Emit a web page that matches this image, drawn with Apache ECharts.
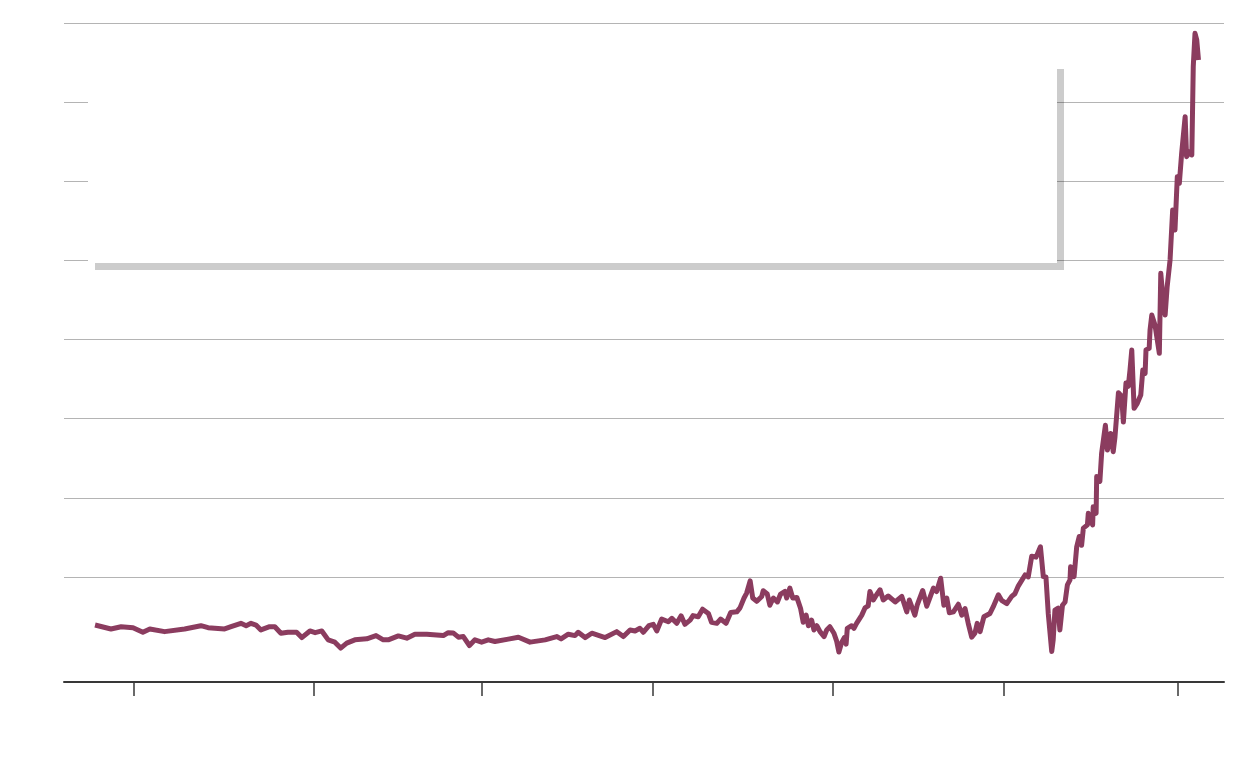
<!DOCTYPE html>
<html>
<head>
<meta charset="utf-8">
<script src="https://cdn.jsdelivr.net/npm/echarts@6/dist/echarts.min.js"></script>
<style>
  html, body { margin: 0; padding: 0; background: #fff; }
  #chart { width: 1240px; height: 784px; }
</style>
</head>
<body>
<div id="chart"></div>
<script>
// months since the start of the axis (month 0 = left edge)
const months = [
  10.7, 16.2, 19.7, 23.8, 27.2, 29.6, 34.7, 41.6, 47.2, 49.7, 55.4, 57.6, 61.0, 62.8, 64.5, 66.2, 67.9, 70.9, 72.7, 74.8,
  77.2, 80.2, 82.0, 84.8, 86.6, 88.9, 91.1, 93.4, 95.4, 97.5, 100.3, 104.4, 107.6, 110.1, 111.8, 115.3, 118.2, 121.0, 125.1, 128.5,
  130.8, 132.5, 134.2, 136.0, 137.7, 139.8, 141.7, 144.0, 146.3, 148.6, 153.2, 156.7, 160.7, 165.9, 169.9, 171.4, 173.9, 176.2, 177.3, 179.7,
  182.0, 186.6, 190.6, 192.9, 195.2, 196.9, 198.6, 199.8, 201.7, 203.2, 204.4, 206.1, 208.4, 209.6, 211.3, 212.8, 214.1, 215.9, 216.9, 218.7,
  220.2, 222.2, 223.3, 225.1, 226.4, 228.3, 229.9, 232.0, 233.1, 234.5, 235.4, 236.6, 237.5, 238.9, 240.6, 241.1, 242.5, 243.4, 244.6, 246.0,
  247.1, 248.6, 249.2, 250.3, 251.3, 252.7, 254.0, 254.9, 255.9, 256.7, 257.8, 258.6, 259.6, 260.7, 262.1, 263.0, 264.1, 265.5, 266.4, 267.2,
  268.2, 269.1, 269.7, 270.1, 271.6, 272.4, 273.3, 275.1, 276.2, 277.3, 277.9, 279.1, 280.2, 281.4, 282.5, 284.2, 286.6, 288.9, 290.6, 291.5,
  293.4, 294.2, 296.1, 297.5, 299.8, 300.9, 302.3, 303.4, 304.4, 305.3, 306.7, 308.4, 309.6, 310.7, 311.8, 313.0, 314.1, 314.9, 315.9, 317.2,
  319.3, 320.4, 322.2, 323.3, 325.1, 326.8, 327.9, 329.1, 331.4, 332.5, 333.7, 335.2, 336.7, 337.7, 338.6, 339.4, 340.6, 341.1, 341.7, 342.8,
  343.4, 344.3, 345.2, 346.0, 346.9, 347.1, 348.3, 349.2, 350.1, 350.9, 351.5, 352.9, 353.2, 354.7, 354.9, 355.9, 356.1, 357.2, 357.8, 359.1,
  359.8, 360.9, 361.8, 362.4, 363.6, 364.7, 365.3, 366.2, 367.0, 367.6, 368.2, 369.0, 370.1, 371.3, 372.0, 372.8, 373.1, 374.2, 374.5, 375.1,
  376.2, 377.7, 378.2, 378.9, 379.7, 380.4, 381.4, 382.3, 383.1, 383.9, 384.6, 385.4, 386.6, 387.1, 388.3, 388.9, 389.4, 390.0, 390.6, 391.2
]

const values = [
  31.5, 27.5, 29.8, 28.8, 24.2, 27.5, 24.8, 27.5, 30.8, 28.8, 27.5, 29.8, 33.2, 30.8, 33.2, 31.5, 26.5, 29.8, 29.8, 23.2,
  24.2, 24.2, 18.8, 25.5, 23.8, 25.5, 16.5, 14.2, 8.2, 13.2, 16.5, 17.5, 20.8, 16.5, 16.5, 20.5, 18.2, 22.2, 22.2, 21.5,
  20.8, 23.8, 23.5, 19.2, 19.8, 10.8, 16.5, 14.2, 16.5, 14.8, 17.2, 19.2, 14.2, 16.5, 19.8, 17.5, 22.2, 20.8, 24.2, 18.8,
  23.2, 18.8, 24.8, 19.8, 26.5, 25.5, 28.2, 24.2, 30.8, 32.2, 25.5, 37.5, 34.8, 38.2, 33.2, 40.8, 32.2, 36.5, 41.0, 39.8,
  47.5, 43.2, 34.2, 33.2, 37.5, 33.2, 44.2, 44.8, 48.8, 58.8, 63.8, 76.1, 58.8, 55.5, 60.4, 66.1, 62.8, 51.5, 58.8, 54.8,
  62.8, 65.4, 58.8, 68.8, 58.8, 59.4, 48.2, 34.2, 41.5, 30.8, 36.5, 26.5, 30.8, 24.8, 19.8, 26.5, 29.8, 23.2, 15.5, 4.2,
  14.2, 18.8, 12.2, 28.2, 30.8, 28.2, 33.2, 41.5, 48.8, 50.8, 65.4, 56.8, 62.1, 67.1, 56.8, 60.8, 54.8, 60.4, 44.8, 56.8,
  41.5, 51.5, 66.4, 50.5, 68.8, 65.4, 78.8, 51.5, 58.8, 43.8, 44.8, 52.5, 41.5, 48.2, 33.2, 19.2, 23.2, 33.2, 24.8, 39.8,
  43.2, 49.8, 62.1, 56.5, 53.2, 60.4, 63.1, 71.1, 82.1, 80.1, 101.1, 100.1, 110.6, 80.4, 80.1, 43.2, 4.8, 16.5, 46.5, 48.5,
  26.5, 51.5, 54.8, 72.1, 77.1, 90.4, 80.4, 110.4, 121.0, 112.1, 129.4, 132.7, 144.4, 132.7, 151.0, 144.4, 181.7, 176.7, 205.1, 233.4,
  208.4, 225.1, 206.7, 221.4, 266.2, 262.8, 236.7, 276.2, 272.8, 289.5, 309.5, 250.5, 255.6, 264.0, 289.3, 285.9, 309.5, 311.2, 329.7, 344.9,
  334.8, 306.1, 387.0, 363.4, 344.9, 373.5, 400.5, 451.0, 430.8, 484.7, 478.0, 508.3, 545.3, 504.9, 509.9, 506.6, 595.9, 629.6, 622.9, 602.6
]

// tick positions on the time axis (months) and gridline values
const tickMonths = [24, 86, 144, 203, 265, 324, 384]
const gridValues = [80, 160, 240, 320, 400, 480, 560, 640]

const chart = echarts.init(document.getElementById('chart'))

const option = {
  animation: false,
  backgroundColor: '#fff',
  grid: {
    left: 64,
    right: 16,
    top: 23,
    bottom: 102,
    containLabel: false,
    outerBoundsMode: 'none',
  },
  xAxis: {
    type: 'value',
    min: 0,
    max: 400,
    axisLine: {
      show: true,
      onZero: false,
      lineStyle: { color: '#383838', width: 2 },
    },
    axisTick: {
      show: true,
      customValues: tickMonths,
      length: 14,
      lineStyle: { color: '#383838', width: 1.5 },
    },
    axisLabel: { show: false, customValues: tickMonths },
    splitLine: { show: false },
  },
  yAxis: {
    type: 'value',
    min: -26.1,
    max: 640,
    axisLine: { show: false },
    axisTick: { show: false, customValues: gridValues },
    axisLabel: { show: false, customValues: gridValues },
    splitLine: {
      show: true,
      lineStyle: { color: '#b4b4b4', width: 1 },
    },
  },
  // empty annotation panel with a flat drop shadow
  graphic: [
    {
      type: 'rect',
      z: 1,
      shape: { x: 95, y: 69, width: 969, height: 201 },
      style: { fill: 'rgba(0,0,0,0.2)' },
      silent: true,
    },
    {
      type: 'rect',
      z: 1,
      shape: { x: 88, y: 62, width: 969, height: 201 },
      style: { fill: '#fff' },
      silent: true,
    },
  ],
  series: [
    {
      type: 'line',
      z: 3,
      showSymbol: false,
      symbol: 'none',
      lineStyle: { color: '#8b3c5f', width: 5, join: 'round' },
      data: months.map((m, i) => [m, values[i]]),
    },
  ],
}

chart.setOption(option)
</script>
</body>
</html>
